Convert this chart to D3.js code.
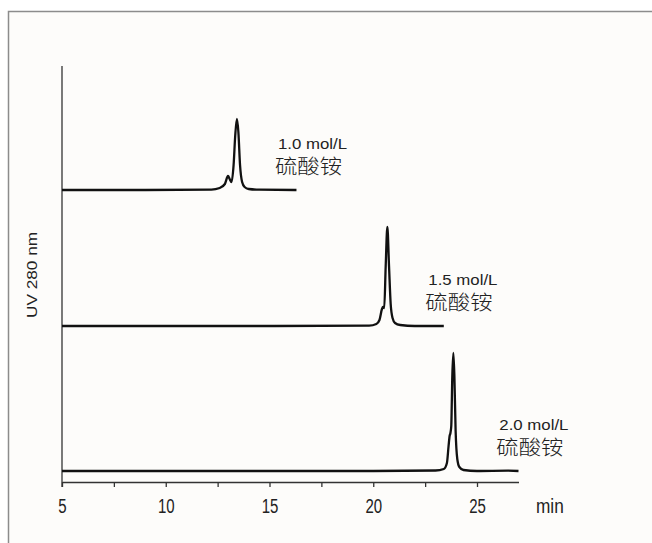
<!DOCTYPE html>
<html>
<head>
<meta charset="utf-8">
<script src="https://cdn.jsdelivr.net/npm/d3@7"></script>
<style>
  html, body { margin: 0; padding: 0; background: #ffffff; }
  svg { display: block; }
</style>
</head>
<body>
<svg id="chart" width="652" height="543"></svg>
<script>
// Hydrophobic-interaction chromatograms at three ammonium sulfate concentrations.
// Time in minutes, detector signal in arbitrary intensity units above each trace's baseline.
const concentrations = ["1.0 mol/L", "1.5 mol/L", "2.0 mol/L"];
const saltName = "硫酸铵";
const baselineOffsets = [292, 156, 11];

const trace1Time   = [5, 9, 12.2, 12.6, 12.85, 13.0, 13.08, 13.17, 13.27, 13.35, 13.43, 13.5, 13.58, 13.68, 13.8, 14.0, 14.5, 16.3];
const trace1Signal = [0, 0, 0.4, 2, 6, 14, 11, 8, 25, 55, 71, 58, 25, 8, 3, 1, 0.3, 0];

const trace2Time   = [5, 15, 19.8, 20.15, 20.3, 20.42, 20.47, 20.53, 20.6, 20.68, 20.76, 20.84, 20.93, 21.05, 21.3, 22, 23.4];
const trace2Signal = [0, 0, 0.3, 2, 6, 17, 19, 18, 60, 99, 60, 22, 8, 3, 1, 0, 0];

const trace3Time   = [5, 20, 23.0, 23.4, 23.55, 23.63, 23.68, 23.72, 23.76, 23.81, 23.86, 23.91, 23.97, 24.05, 24.15, 24.35, 25, 26.5, 27.0];
const trace3Signal = [0, 0, 0.5, 2, 8, 25, 35, 38, 45, 95, 118, 95, 40, 12, 4, 1, 0, 0.3, 0];

const peakTimes = [13.43, 20.68, 23.86];

const xTicks = [5, 7.5, 10, 12.5, 15, 17.5, 20, 22.5, 25];
const xDomain = [5, 27];
const xUnit = "min";
const yTitle = "UV 280 nm";

const traces = [
  { time: trace1Time, signal: trace1Signal },
  { time: trace2Time, signal: trace2Signal },
  { time: trace3Time, signal: trace3Signal }
];

const svg = d3.select("#chart");

// panel frame
svg.append("rect")
  .attr("x", 8.5).attr("y", 11.5)
  .attr("width", 700).attr("height", 600)
  .attr("fill", "#fdfcfa")
  .attr("stroke", "#8c8c8c")
  .attr("stroke-width", 1.5);

const x = d3.scaleLinear().domain(xDomain).range([62, 518.5]);
const y = d3.scaleLinear().domain([0, 416]).range([482, 66]);

// x axis
const xAxis = d3.axisBottom(x)
  .tickValues(xTicks)
  .tickSize(5)
  .tickSizeOuter(0)
  .tickFormat(d => (d % 5 === 0 ? d : ""));

const gx = svg.append("g")
  .attr("transform", `translate(0,${y(0)})`)
  .call(xAxis);

gx.select(".domain").attr("stroke", "#333").attr("stroke-width", 1.3);
gx.selectAll(".tick line").attr("stroke", "#333").attr("stroke-width", 1.3);
gx.selectAll(".tick text")
  .attr("y", null).attr("dy", null)
  .attr("transform", "translate(0,31) scale(1,1.35)")
  .attr("fill", "#222")
  .style("font-family", "'Liberation Sans', Arial, sans-serif")
  .style("font-size", "15px");

svg.append("text")
  .attr("x", 0).attr("y", 0)
  .attr("transform", `translate(536,${y(0) + 31}) scale(1.15,1.35)`)
  .attr("fill", "#222")
  .style("font-family", "'Liberation Sans', Arial, sans-serif")
  .style("font-size", "15px")
  .text(xUnit);

// y axis (no ticks)
svg.append("line")
  .attr("x1", x(xDomain[0])).attr("x2", x(xDomain[0]))
  .attr("y1", y(416)).attr("y2", y(0) + 5)
  .attr("stroke", "#333")
  .attr("stroke-width", 1.3);

svg.append("text")
  .attr("transform", `translate(37,275) rotate(-90) scale(1.23,1)`)
  .attr("text-anchor", "middle")
  .attr("fill", "#222")
  .style("font-family", "'Liberation Sans', Arial, sans-serif")
  .style("font-size", "14px")
  .text(yTitle);

// chromatogram traces
const line = d3.line()
  .x(d => x(d[0]))
  .y(d => y(d[1]))
  .curve(d3.curveMonotoneX);

traces.forEach((tr, i) => {
  const pts = tr.time.map((t, j) => [t, tr.signal[j] + baselineOffsets[i]]);
  svg.append("path")
    .attr("d", line(pts))
    .attr("fill", "none")
    .attr("stroke", "#111")
    .attr("stroke-width", 2.3)
    .attr("stroke-linejoin", "round");

  const lx = x(peakTimes[i]) + (i === 2 ? 46 : 41);
  const by = y(baselineOffsets[i]);
  svg.append("text")
    .attr("transform", `translate(${lx},${by - 41}) scale(1.2,1)`)
    .attr("fill", "#222")
    .style("font-family", "'Liberation Sans', Arial, sans-serif")
    .style("font-size", "14px")
    .text(concentrations[i]);
  svg.append("text")
    .attr("transform", `translate(${lx - 3},${by - 16.5}) scale(1.12,1)`)
    .attr("fill", "#222")
    .style("font-family", "'Noto Sans CJK SC', sans-serif")
    .style("font-size", "20px")
    .style("font-weight", 300)
    .text(saltName);
});
</script>
</body>
</html>
